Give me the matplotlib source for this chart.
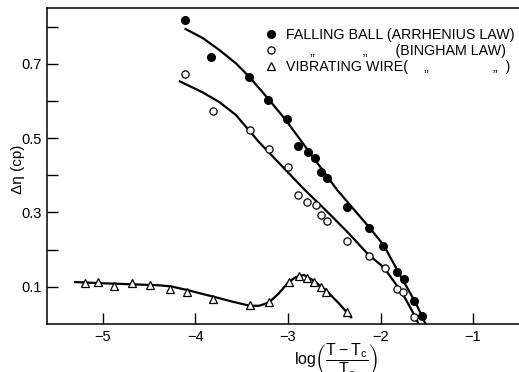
import matplotlib
matplotlib.use('Agg')
import matplotlib.pyplot as plt

plt.rcParams['font.family'] = ['Liberation Sans', 'DejaVu Sans']

# falling ball, Arrhenius law
arr_x = [-4.118, -3.831, -3.419, -3.212, -3.008, -2.889, -2.782, -2.710, -2.648,
         -2.577, -2.362, -2.122, -1.968, -1.825, -1.742, -1.634, -1.548]
arr_y = [0.818, 0.719, 0.664, 0.603, 0.552, 0.480, 0.464, 0.446, 0.408,
         0.392, 0.316, 0.259, 0.211, 0.140, 0.122, 0.062, 0.022]
arr_fit_x = [-4.118, -3.921, -3.742, -3.562, -3.419, -3.204, -3.025, -2.470,
             -2.129, -1.968, -1.825, -1.699, -1.610, -1.513]
arr_fit_y = [0.795, 0.769, 0.737, 0.701, 0.665, 0.603, 0.549, 0.361,
             0.262, 0.213, 0.148, 0.092, 0.052, 0.0]

# falling ball, Bingham law
bing_x = [-4.118, -3.806, -3.409, -3.204, -3.000, -2.889, -2.792, -2.702,
          -2.638, -2.577, -2.362, -2.122, -1.950, -1.825, -1.753, -1.634]
bing_y = [0.673, 0.574, 0.522, 0.471, 0.421, 0.347, 0.329, 0.320,
          0.294, 0.278, 0.224, 0.183, 0.150, 0.094, 0.087, 0.020]
bing_fit_x = [-4.180, -3.922, -3.742, -3.562, -3.312, -2.828, -2.559, -2.344,
              -2.129, -1.968, -1.842, -1.735, -1.645, -1.591]
bing_fit_y = [0.654, 0.623, 0.597, 0.562, 0.489, 0.363, 0.298, 0.244,
              0.186, 0.153, 0.110, 0.070, 0.029, 0.002]

# vibrating wire
wire_x = [-5.190, -5.054, -4.885, -4.681, -4.495, -4.280, -4.094, -3.814, -3.409,
          -3.204, -2.992, -2.878, -2.798, -2.720, -2.643, -2.586, -2.362]
wire_y = [0.110, 0.112, 0.103, 0.109, 0.105, 0.094, 0.086, 0.068, 0.052,
          0.060, 0.113, 0.128, 0.125, 0.113, 0.099, 0.087, 0.031]
wire_fit_x = [-5.312, -5.051, -4.710, -4.387, -4.261, -4.100, -3.814, -3.599, -3.412,
              -3.312, -3.204, -3.097, -2.997, -2.917, -2.828, -2.739, -2.594, -2.452, -2.309]
wire_fit_y = [0.113, 0.110, 0.107, 0.104, 0.101, 0.092, 0.074, 0.060, 0.049,
              0.049, 0.058, 0.083, 0.112, 0.126, 0.132, 0.119, 0.092, 0.056, 0.016]

xticks = [-5, -4, -3, -2, -1]
yticks = [0.1, 0.3, 0.5, 0.7]
yminor = [0.2, 0.4, 0.6, 0.8]

fig = plt.figure(figsize=(5.19, 3.72), dpi=100)
ax = fig.add_axes([47 / 519, 48 / 372, 472 / 519, 316 / 372])

# fitted curves
for fx, fy in [(arr_fit_x, arr_fit_y), (bing_fit_x, bing_fit_y), (wire_fit_x, wire_fit_y)]:
    ax.plot(fx, fy, color='black', lw=1.6, solid_capstyle='butt', zorder=2)

h1, = ax.plot(arr_x, arr_y, 'o', ms=5.5, mfc='black', mec='black', zorder=3)
h2, = ax.plot(bing_x, bing_y, 'o', ms=5.2, mfc='white', mec='black', mew=0.9, zorder=3)
h3, = ax.plot(wire_x, wire_y, '^', ms=5.5, mfc='white', mec='black', mew=0.9, zorder=3)

ditto = '\u201e'
labels = ['FALLING BALL (ARRHENIUS LAW)',
          ' ' * 6 + ditto + ' ' * 12 + ditto + ' ' * 7 + '(BINGHAM LAW)',
          'VIBRATING WIRE(' + ' ' * 4 + ditto + ' ' * 16 + ditto + ' ' * 2 + ')']
ax.legend([h1, h2, h3], labels, loc='upper left', bbox_to_anchor=(0.465, 0.936),
          frameon=False, fontsize=10.3, handlelength=0.6, handletextpad=0.78,
          labelspacing=0.12, borderaxespad=0.0, borderpad=0.0)

ax.set_xlim(-5.605, -0.503)
ax.set_ylim(0.0, 0.85)
ax.set_xticks(xticks)
ax.set_xticklabels([f'\u2212{abs(t)}' for t in xticks])
ax.set_yticks(yticks)
ax.set_yticklabels([f'{t:.1f}' for t in yticks])
ax.set_yticks(yminor, minor=True)
ax.tick_params(axis='both', which='both', direction='in', length=8, width=1,
               labelsize=10.5, pad=4)
ax.spines['right'].set_visible(False)
for s in ['left', 'bottom', 'top']:
    ax.spines[s].set_linewidth(1.1)

ax.set_ylabel('\u0394\u03b7 (cp)', fontsize=11)
ax.yaxis.set_label_coords(-0.047, 0.49)
ax.set_xlabel(r'$\mathregular{log}\left(\dfrac{\mathregular{T-T_c}}{\mathregular{T_c}}\right)$',
              fontsize=11.5)
ax.xaxis.set_label_coords(0.612, -0.055)

fig.savefig('out.png', dpi=100)
